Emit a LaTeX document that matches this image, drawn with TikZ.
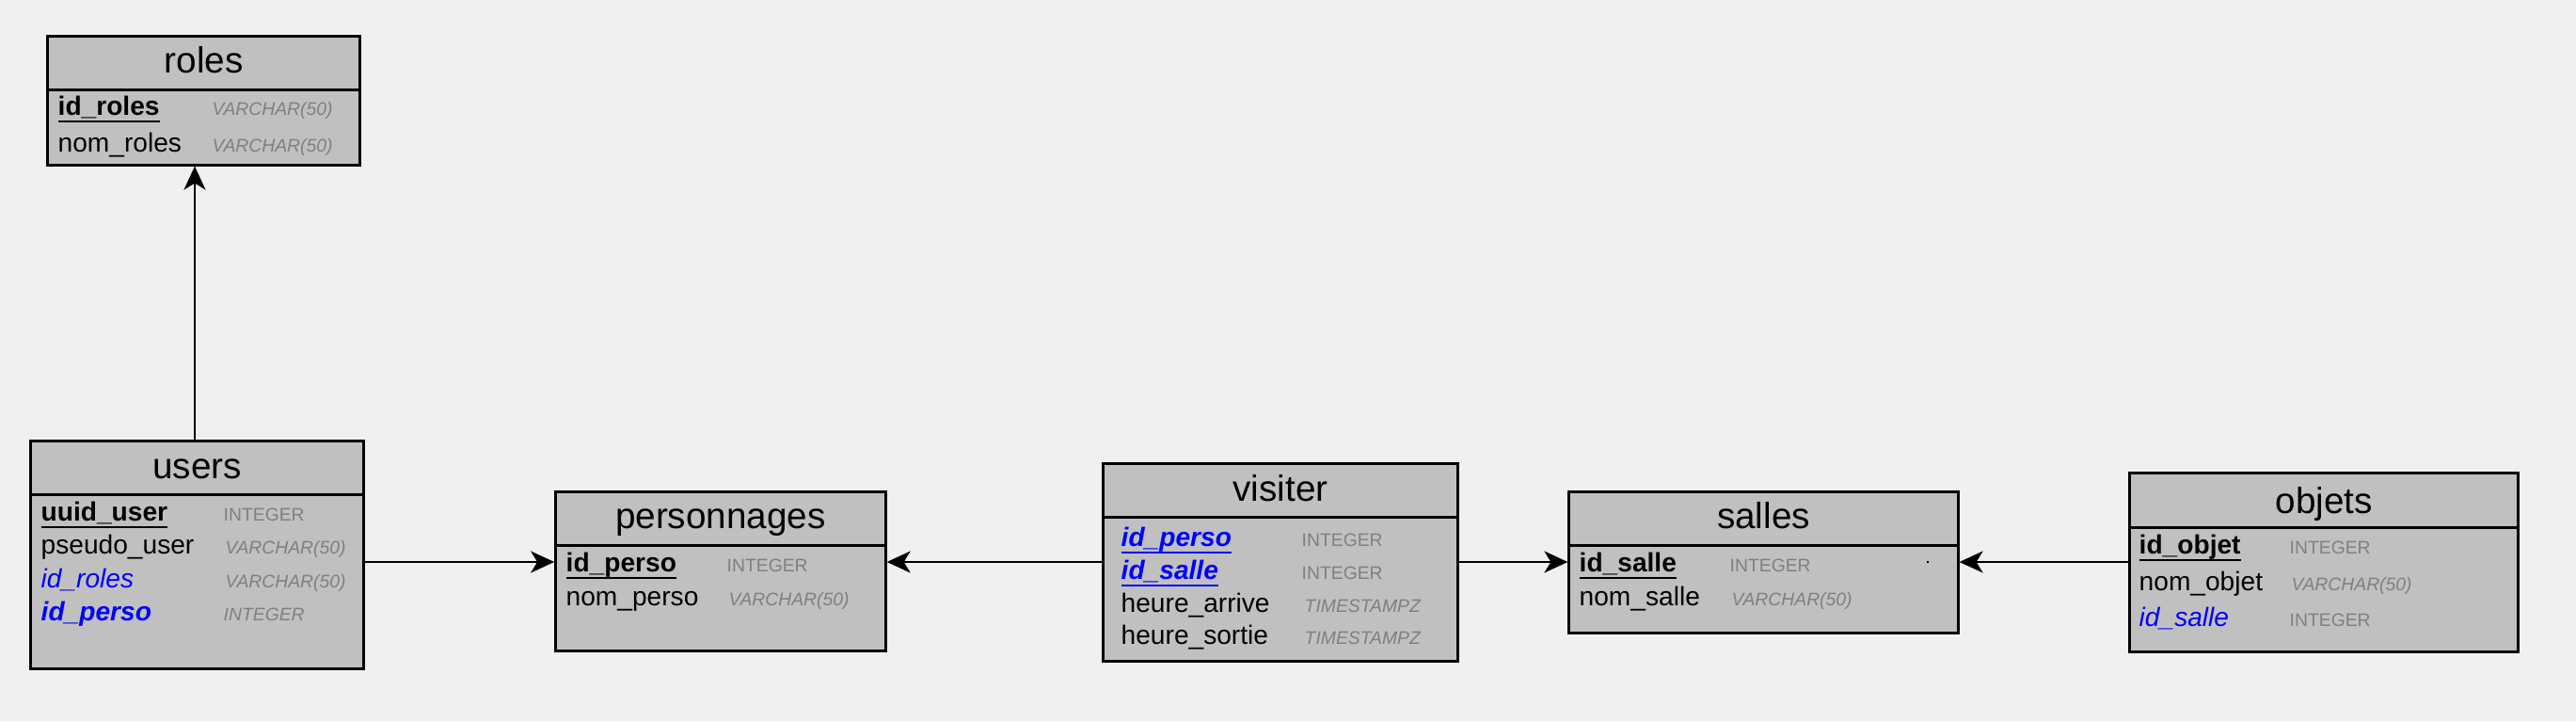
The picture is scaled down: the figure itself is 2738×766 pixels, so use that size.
\documentclass[tikz,border=0pt]{standalone}
\usepackage{fontspec}
\setmainfont{Liberation Sans}
\usepackage{xcolor}
\usepackage{tikz}
\usetikzlibrary{arrows.meta, positioning, calc}
\definecolor{bggray}{RGB}{240, 240, 240}
\definecolor{tablegray}{RGB}{192, 192, 192}
\definecolor{typegray}{RGB}{128, 128, 128}
\definecolor{fkblue}{RGB}{0, 0, 255}
\newcommand{\pkul}[1]{\setbox0\hbox{#1}\rlap{\rule[-2.3pt]{\wd0}{0.7pt}}\box0}

\begin{document}
\begin{tikzpicture}[x=0.01cm, y=-0.01cm,
    tbl/.style={draw, fill=tablegray, line width=0.85pt, rectangle, inner sep=0pt},
    ttl/.style={anchor=base, inner sep=0pt, font=\fontsize{11}{13}\selectfont},
    col/.style={anchor=base west, inner sep=0pt, font=\fontsize{8}{9.6}\selectfont},
    pk/.style={col, font=\fontsize{8}{9.6}\selectfont\bfseries},
    fk/.style={col, text=fkblue, font=\fontsize{8}{9.6}\selectfont\itshape},
    typ/.style={anchor=base west, inner sep=0pt, text=typegray, font=\fontsize{5.5}{6.6}\selectfont},
    typi/.style={typ, font=\fontsize{5.5}{6.6}\selectfont\itshape},
    link/.style={line width=0.6pt, -{Stealth[length=0.25cm, width=0.23cm, inset=0.07cm]}}]

    % Background
    \fill[bggray] (0,0) rectangle (2738,766);

    % roles table
    \node[tbl, minimum width=3.32cm, minimum height=1.367cm] (roles) at (216.7,106.7) {};
    \draw[line width=0.85pt] (roles.west |- 0,95) -- (roles.east |- 0,95);
    \node[ttl] (rolesttl) at (roles.center |- 0,77) {roles};
    \node[pk] (rolesid) at (61,122) {\pkul{id\_roles}};
    \node[typi] (rolesidt) at (225,122) {VARCHAR(50)};
    \node[col] (rolesnom) at (61,161) {nom\_roles};
    \node[typi] (rolesnomt) at (225,161) {VARCHAR(50)};

    % users table
    \node[tbl, minimum width=3.54cm, minimum height=2.417cm] (users) at (209.7,589.9) {};
    \draw[line width=0.85pt] (users.west |- 0,525) -- (users.east |- 0,525);
    \node[ttl] (usersttl) at (users.center |- 0,508) {users};
    \node[pk] (usersid) at (43,553) {\pkul{uuid\_user}};
    \node[typ] (usersidt) at (237,553) {INTEGER};
    \node[col] (userspseudo) at (43,588) {pseudo\_user};
    \node[typi] (userspseudot) at (239,588) {VARCHAR(50)};
    \node[fk] (usersroles) at (43,624) {id\_roles};
    \node[typi] (usersrolest) at (239,624) {VARCHAR(50)};
    \node[fk, font=\fontsize{8}{9.6}\selectfont\bfseries\itshape] (usersperso) at (43,659) {id\_perso};
    \node[typi] (userspersot) at (237,659) {INTEGER};

    % personnages table
    \node[tbl, minimum width=3.503cm, minimum height=1.683cm] (pers) at (765.9,606.9) {};
    \draw[line width=0.85pt] (pers.west |- 0,579) -- (pers.east |- 0,579);
    \node[ttl] (persttl) at (pers.center |- 0,561) {personnages};
    \node[pk] (persid) at (601,607) {\pkul{id\_perso}};
    \node[typ] (persidt) at (772,607) {INTEGER};
    \node[col] (persnom) at (601,643) {nom\_perso};
    \node[typi] (persnomt) at (774,643) {VARCHAR(50)};

    % visiter table
    \node[tbl, minimum width=3.763cm, minimum height=2.1cm] (visiter) at (1360.9,597.7) {};
    \draw[line width=0.85pt] (visiter.west |- 0,549) -- (visiter.east |- 0,549);
    \node[ttl] (visiterttl) at (visiter.center |- 0,532) {visiter};
    \node[fk, font=\fontsize{8}{9.6}\selectfont\bfseries\itshape] (visperso) at (1191,580) {\pkul{id\_perso}};
    \node[typ] (vispersot) at (1383,580) {INTEGER};
    \node[fk, font=\fontsize{8}{9.6}\selectfont\bfseries\itshape] (vissalle) at (1191,615) {\pkul{id\_salle}};
    \node[typ] (vissallet) at (1383,615) {INTEGER};
    \node[col] (visarrive) at (1191,650) {heure\_arrive};
    \node[typi] (visarrivet) at (1386,650) {TIMESTAMPZ};
    \node[col] (vissortie) at (1191,684) {heure\_sortie};
    \node[typi] (vissortiet) at (1386,684) {TIMESTAMPZ};

    % salles table
    \node[tbl, minimum width=4.13cm, minimum height=1.5cm] (salles) at (1874.5,597.7) {};
    \draw[line width=0.85pt] (salles.west |- 0,579) -- (salles.east |- 0,579);
    \node[ttl] (sallesttl) at (salles.center |- 0,561) {salles};
    \node[pk] (sallesid) at (1678,607) {\pkul{id\_salle}};
    \node[typ] (sallesidt) at (1838,607) {INTEGER};
    \node[col] (sallesnom) at (1678,643) {nom\_salle};
    \node[typi] (sallesnomt) at (1840,643) {VARCHAR(50)};
    \fill (2048,596) rectangle (2050,598);

    % objets table
    \node[tbl, minimum width=4.127cm, minimum height=1.9cm] (objets) at (2470.4,597.7) {};
    \draw[line width=0.85pt] (objets.west |- 0,560) -- (objets.east |- 0,560);
    \node[ttl] (objetsttl) at (objets.center |- 0,545) {objets};
    \node[pk] (objetsid) at (2273,588) {\pkul{id\_objet}};
    \node[typ] (objetsidt) at (2433,588) {INTEGER};
    \node[col] (objetsnom) at (2273,627) {nom\_objet};
    \node[typi] (objetsnomt) at (2435,627) {VARCHAR(50)};
    \node[fk] (objetssalle) at (2273,665) {id\_salle};
    \node[typ] (objetssallet) at (2433,665) {INTEGER};

    % Links
    \coordinate (uplink) at (207,0);
    \coordinate (hlink) at (0,597);
    \draw[link] (users.north -| uplink) -- (roles.south -| uplink);
    \draw[link] (users.east |- hlink) -- (pers.west |- hlink);
    \draw[link] (visiter.west |- hlink) -- (pers.east |- hlink);
    \draw[link] (visiter.east |- hlink) -- (salles.west |- hlink);
    \draw[link] (objets.west |- hlink) -- (salles.east |- hlink);
\end{tikzpicture}
\end{document}
